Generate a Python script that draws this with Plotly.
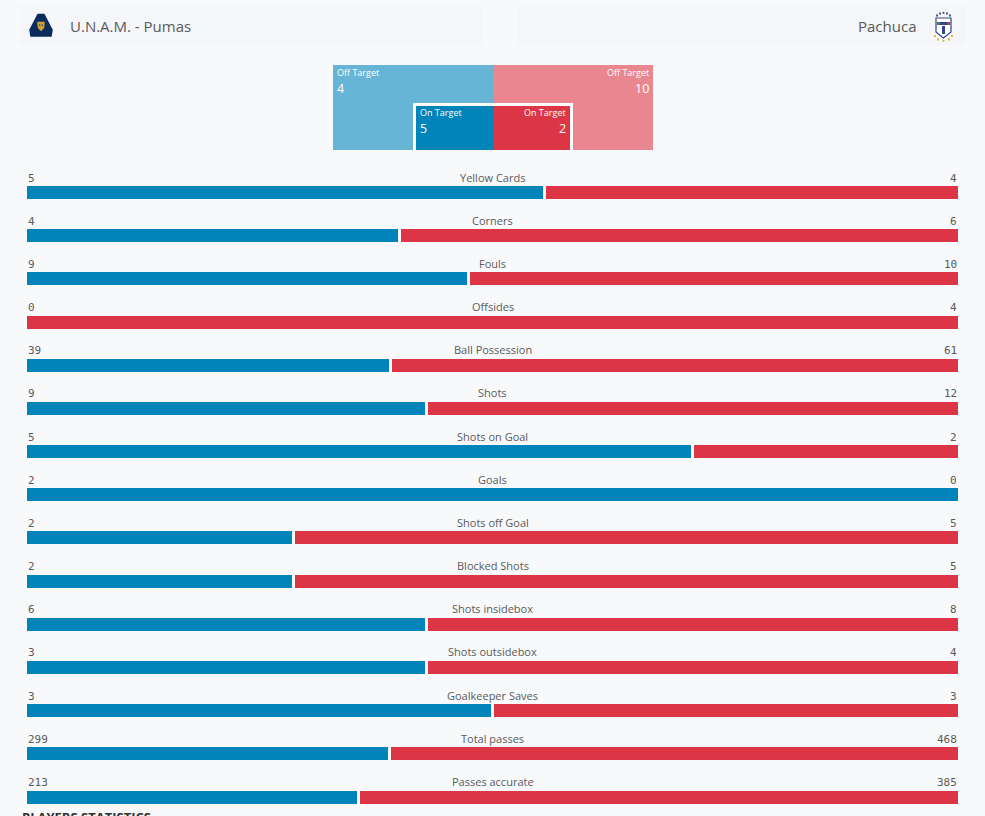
import plotly.graph_objects as go

# ---------------- data ----------------
home_team = "U.N.A.M. - Pumas"
away_team = "Pachuca"

stat_names = ["Yellow Cards", "Corners", "Fouls", "Offsides", "Ball Possession",
              "Shots", "Shots on Goal", "Goals", "Shots off Goal", "Blocked Shots",
              "Shots insidebox", "Shots outsidebox", "Goalkeeper Saves",
              "Total passes", "Passes accurate"]
home_vals = [5, 4, 9, 0, 39, 9, 5, 2, 2, 2, 6, 3, 3, 299, 213]
away_vals = [4, 6, 10, 4, 61, 12, 2, 0, 5, 5, 8, 4, 3, 468, 385]

shot_labels = ["Off Target", "On Target"]
home_shots = [4, 5]
away_shots = [10, 2]

# ---------------- style ----------------
W, H = 985, 816
BG = "#f8f9fb"
BOX = "#f4f6f9"
BLUE = "#0084ba"
RED = "#dc3545"
LBLUE = "#66b4d6"
LRED = "#ea868f"
TXT = "#5a5a5a"
FONT = "Open Sans"
MONO = "DejaVu Sans Mono"


def px(x):
    return x / W


def py(y):
    return 1 - y / H


ROW0 = 192.5       # centre of first bar (px)
PITCH = 43.18      # row pitch (px)
BAR_H = 13
GAP = 3
X0, X1 = 27, 958
TW = X1 - X0

rows = list(range(len(stat_names)))
share = [h / (h + a) if (h + a) > 0 else 0.5 for h, a in zip(home_vals, away_vals)]
blue_len, red_base, red_len = [], [], []
for s in share:
    g = GAP / 2 if 0 < s < 1 else 0
    blue_len.append(max(s * TW - g, 0))
    red_base.append(s * TW + g)
    red_len.append(max((1 - s) * TW - g, 0))

fig = go.Figure()
bw = BAR_H / PITCH
fig.add_trace(go.Bar(y=rows, x=blue_len, orientation="h", width=bw,
                     marker=dict(color=BLUE, line=dict(width=0)),
                     hoverinfo="skip", showlegend=False))
fig.add_trace(go.Bar(y=rows, x=red_len, base=red_base, orientation="h", width=bw,
                     marker=dict(color=RED, line=dict(width=0)),
                     hoverinfo="skip", showlegend=False))

annotations = []
shapes = []

# stat labels and numbers
for i, name in enumerate(stat_names):
    annotations.append(dict(x=px((X0 + X1) / 2), xref="paper", y=i, yref="y",
                            yshift=15.5, text=name, showarrow=False,
                            xanchor="center", yanchor="middle",
                            font=dict(family=FONT, size=11, color=TXT)))
    annotations.append(dict(x=px(X0 - 1), xref="paper", y=i, yref="y",
                            yshift=14.5, text=str(home_vals[i]), showarrow=False,
                            xanchor="left", yanchor="middle",
                            font=dict(family=MONO, size=11, color=TXT)))
    annotations.append(dict(x=px(X1 + 1), xref="paper", y=i, yref="y",
                            yshift=14.5, text=str(away_vals[i]), showarrow=False,
                            xanchor="right", yanchor="middle",
                            font=dict(family=MONO, size=11, color=TXT)))


def rect(x0, y0, x1, y1, fill):
    shapes.append(dict(type="rect", xref="paper", yref="paper",
                       x0=px(x0), x1=px(x1), y0=py(y1), y1=py(y0),
                       fillcolor=fill, line=dict(width=0), layer="below"))


# header boxes
rect(20, 5, 483, 45, BOX)
rect(517, 5, 965, 45, BOX)

annotations.append(dict(x=px(68), y=py(26), xref="paper", yref="paper",
                        text=home_team, showarrow=False, xanchor="left", yanchor="middle",
                        font=dict(family=FONT, size=15, color=TXT)))
annotations.append(dict(x=px(918), y=py(26), xref="paper", yref="paper",
                        text=away_team, showarrow=False, xanchor="right", yanchor="middle",
                        font=dict(family=FONT, size=15, color=TXT)))


def path(points_px, fill, line_color=None, lw=0):
    d = ""
    for k, (x, y) in enumerate(points_px):
        d += ("M" if k == 0 else "L") + f"{px(x):.5f},{py(y):.5f} "
    d += "Z"
    shapes.append(dict(type="path", xref="paper", yref="paper", path=d,
                       fillcolor=fill,
                       line=dict(color=line_color or fill, width=lw)))


# Pumas logo (navy rounded triangle with gold face)
path([(38, 14.5), (44, 14.5), (52, 30), (51, 36), (31, 36), (30, 30)], "#0b2b5c",
     "#0b2b5c", 1.5)
path([(37.5, 22), (44.5, 22), (44, 28), (41, 31), (38, 28)], "#c9a033", "#c9a033", 0.5)
path([(39, 24.5), (40.3, 24.5), (40.3, 25.6), (39, 25.6)], "#0b2b5c")
path([(41.7, 24.5), (43, 24.5), (43, 25.6), (41.7, 25.6)], "#0b2b5c")

# Pachuca crest
path([(936, 18), (951, 18), (951, 32), (943.5, 38), (936, 32)], "#ffffff", "#35438a", 1.2)
path([(937, 22), (950, 22), (950, 25), (937, 25)], "#35438a")
path([(937.5, 22.3), (940, 22.3), (940, 24.7), (937.5, 24.7)], "#3a9a4a")
path([(947, 22.3), (949.5, 22.3), (949.5, 24.7), (947, 24.7)], "#d33a3a")
path([(942, 26), (945, 26), (945, 34), (942, 34)], "#35438a")
for (sx, sy) in [(937, 15.5), (940, 13.5), (943.5, 12.8), (947, 13.5), (950, 15.5)]:
    path([(sx - 0.9, sy - 0.9), (sx + 0.9, sy - 0.9), (sx + 0.9, sy + 0.9), (sx - 0.9, sy + 0.9)],
         "#35438a")
for (sx, sy) in [(935, 36), (938, 39.5), (943.5, 41), (949, 39.5), (952, 36)]:
    path([(sx - 0.9, sy - 0.9), (sx + 0.9, sy - 0.9), (sx + 0.9, sy + 0.9), (sx - 0.9, sy + 0.9)],
         "#e0b030")

# shot box
rect(333, 65, 493, 150, LBLUE)
rect(493, 65, 653, 150, LRED)
rect(413, 103, 573, 150, "#ffffff")
rect(416, 106, 493, 150, BLUE)
rect(493, 106, 570, 150, RED)


def txt(x, y, s, anchor, size):
    annotations.append(dict(x=px(x), y=py(y), xref="paper", yref="paper", text=s,
                            showarrow=False, xanchor=anchor, yanchor="middle",
                            font=dict(family=FONT, size=size, color="#ffffff")))


txt(335, 72, shot_labels[0], "left", 9)
txt(335, 88, str(home_shots[0]), "left", 12.5)
txt(651, 72, shot_labels[0], "right", 9)
txt(651, 88, str(away_shots[0]), "right", 12.5)
txt(418, 113, shot_labels[1], "left", 9)
txt(418, 128.5, str(home_shots[1]), "left", 12.5)
txt(568, 113, shot_labels[1], "right", 9)
txt(568, 128.5, str(away_shots[1]), "right", 12.5)

# cut-off section title at the bottom
annotations.append(dict(x=px(20), y=py(806), xref="paper", yref="paper",
                        text="<b>PLAYERS STATISTICS</b>", showarrow=False,
                        xanchor="left", yanchor="top",
                        font=dict(family=FONT, size=13, color="#333333")))

y_bottom = (H - ROW0) / PITCH
y_top = -ROW0 / PITCH

fig.update_layout(
    width=W, height=H, margin=dict(l=0, r=0, t=0, b=0),
    paper_bgcolor=BG, plot_bgcolor="rgba(0,0,0,0)",
    barmode="overlay", bargap=0,
    xaxis=dict(domain=[px(X0), px(X1)], range=[0, TW],
               visible=False, fixedrange=True),
    yaxis=dict(domain=[0, 1], range=[y_bottom, y_top], visible=False, fixedrange=True),
    shapes=shapes, annotations=annotations, showlegend=False,
)

fig.write_html("out.html", config={"displayModeBar": False})
